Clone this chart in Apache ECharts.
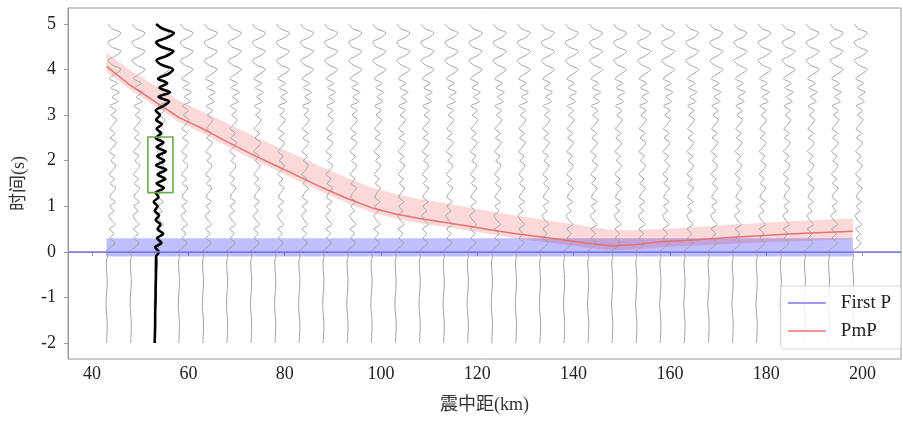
<!DOCTYPE html>
<html>
<head>
<meta charset="utf-8">
<script src="https://cdn.jsdelivr.net/npm/echarts@6.0.0/dist/echarts.min.js"></script>
<style>
  html, body { margin: 0; padding: 0; background: #fff; }
  #chart { width: 903px; height: 421px; }
</style>
</head>
<body>
<div id="chart"></div>
<script>
// 台站震中距 (km)
const traceDist = [43, 48, 53, 58, 63, 68, 73, 78, 83, 88, 93, 98, 103, 108, 113, 118,
  123, 128, 133, 138, 143, 148, 153, 158, 163, 168, 173, 178, 183, 188, 193, 198];
// 波形采样时间 (s)
const waveTime = [-2.0, -1.8, -1.6, -1.4, -1.2, -1.0, -0.8, -0.6, -0.4, -0.2, -0.1, 0.0,
  0.1, 0.2, 0.3, 0.4, 0.5, 0.6, 0.7, 0.8, 0.9, 1.0,
  1.1, 1.2, 1.3, 1.4, 1.5, 1.6, 1.7, 1.8, 1.9, 2.0,
  2.1, 2.2, 2.3, 2.4, 2.5, 2.6, 2.7, 2.8, 2.9, 3.0,
  3.1, 3.2, 3.3, 3.4, 3.5, 3.6, 3.7, 3.8, 3.9, 4.0,
  4.1, 4.2, 4.3, 4.4, 4.5, 4.6, 4.7, 4.8, 4.9, 5.0];
// 灰色波形偏移量 (km)
const grayWave = [0.0, 0.1, 0.15, 0.05, -0.1, -0.05, 0.1, 0.15, 0.0, -0.05, 0.2, -0.1,
  0.9, 1.7, 0.7, 1.5, 0.6, 1.8, 1.0, 0.5, 1.5, 0.7,
  1.8, 0.7, 1.2, 1.9, 0.8, 1.6, 0.6, 1.4, 1.9, 0.9,
  1.7, 0.6, 1.4, 2.0, 0.8, 1.8, 0.7, 1.5, 2.1, 1.0,
  2.0, 0.7, 2.4, 1.2, 2.6, 0.9, 2.2, 0.6, 1.8, 3.0,
  1.2, 0.3, 1.9, 3.0, 1.0, 0.3, 2.0, 3.0, 1.1, 0.3];
// 黑色波形 (53 km)
const blackDist = 53;
const blackWave = [0.0, 0.05, 0.1, 0.1, 0.15, 0.2, 0.2, 0.25, 0.3, 0.35, 0.3, 0.9,
  0.1, 1.4, 0.5, 1.8, 0.6, 1.2, 0.2, 0.9, 0.0, 0.6,
  -0.2, 0.8, 0.2, 1.9, 0.4, 2.2, 0.6, 2.4, 0.3, 2.0,
  0.5, 2.3, 0.4, 1.8, 0.2, 1.3, 0.4, 1.5, 0.3, 1.1,
  0.2, 1.8, 3.0, 0.8, 3.2, 1.0, 2.6, 0.7, 2.8, 3.8,
  1.5, 0.4, 2.5, 3.9, 1.4, 0.3, 2.6, 4.0, 1.6, 0.3];
// PmP 走时及范围
const pmpTime = [4.07, 3.65, 3.3, 2.95, 2.7, 2.42, 2.15, 1.9, 1.65, 1.4, 1.17, 0.97, 0.83, 0.73, 0.65, 0.57,
  0.48, 0.40, 0.33, 0.26, 0.19, 0.13, 0.16, 0.22, 0.25, 0.28, 0.32, 0.35, 0.38, 0.41, 0.43, 0.45];
const pmpUpper = [4.37, 3.98, 3.65, 3.32, 3.08, 2.82, 2.57, 2.33, 2.09, 1.85, 1.62, 1.42, 1.27, 1.16, 1.07, 0.98,
  0.88, 0.8, 0.72, 0.64, 0.56, 0.48, 0.48, 0.5, 0.53, 0.56, 0.6, 0.63, 0.66, 0.69, 0.71, 0.73];
const pmpLower = [3.95, 3.55, 3.2, 2.85, 2.6, 2.32, 2.05, 1.8, 1.55, 1.3, 1.07, 0.87, 0.73, 0.63, 0.55, 0.47,
  0.38, 0.3, 0.23, 0.16, 0.09, 0.03, 0.05, 0.1, 0.13, 0.15, 0.18, 0.2, 0.22, 0.24, 0.26, 0.28];
// First P 范围
const firstPBandDist = [43, 198];
const firstPLower = [-0.1, -0.1];
const firstPUpper = [0.3, 0.3];
// 绿色框
const greenBoxKm = [51.6, 56.8];
const greenBoxTime = [1.3, 2.52];
// 刻度
const xTicks = [40, 60, 80, 100, 120, 140, 160, 180, 200];
const yTicks = [-2, -1, 0, 1, 2, 3, 4, 5];

const FONT = '"Liberation Serif", "Noto Sans CJK SC", serif';

function bandRender(dist, lower, upper, fill) {
  return function (params, api) {
    const pts = [];
    for (let i = 0; i < dist.length; i++) pts.push(api.coord([dist[i], upper[i]]));
    for (let i = dist.length - 1; i >= 0; i--) pts.push(api.coord([dist[i], lower[i]]));
    return { type: 'polygon', shape: { points: pts }, style: { fill: fill } };
  };
}

const series = [];
series.push({
  type: 'custom', silent: true, z: 1,
  renderItem: bandRender(firstPBandDist, firstPLower, firstPUpper, 'rgba(0,0,255,0.25)'),
  data: [[firstPBandDist[0], firstPLower[0]]]
});
series.push({
  type: 'custom', silent: true, z: 1,
  renderItem: bandRender(traceDist, pmpLower, pmpUpper, 'rgba(230,0,0,0.15)'),
  data: [[traceDist[0], pmpLower[0]]]
});

traceDist.forEach(function (d) {
  series.push({
    name: 'trace' + d,
    type: 'line', silent: true, z: 2,
    symbol: 'none', smooth: 0.3,
    lineStyle: { color: '#a3a3a3', width: 1 },
    data: waveTime.map(function (t, i) { return [d + grayWave[i], t]; })
  });
});

series.push({
  name: 'black', type: 'line', silent: true, z: 4,
  symbol: 'none', smooth: 0.3,
  lineStyle: { color: '#000', width: 2.6 },
  data: waveTime.map(function (t, i) { return [blackDist + blackWave[i], t]; })
});

series.push({
  name: 'First P', type: 'line', z: 3, symbol: 'none',
  itemStyle: { color: '#7a7af0' },
  lineStyle: { color: '#7a7af0', width: 1.5 },
  data: [],
  markLine: {
    silent: true, symbol: 'none', label: { show: false },
    lineStyle: { color: '#7a7af0', width: 1.5, type: 'solid' },
    data: [{ yAxis: 0 }]
  }
});

series.push({
  name: 'PmP', type: 'line', z: 3, symbol: 'none',
  itemStyle: { color: '#e47272' },
  lineStyle: { color: '#e47272', width: 1.5 },
  data: traceDist.map(function (d, i) { return [d, pmpTime[i]]; })
});

series.push({
  type: 'custom', silent: true, z: 5,
  renderItem: function (params, api) {
    const p0 = api.coord([greenBoxKm[0], greenBoxTime[1]]);
    const p1 = api.coord([greenBoxKm[1], greenBoxTime[0]]);
    return {
      type: 'rect',
      shape: { x: p0[0], y: p0[1], width: p1[0] - p0[0], height: p1[1] - p0[1] },
      style: { fill: 'none', stroke: '#6aab47', lineWidth: 1.6 }
    };
  },
  data: [[greenBoxKm[0], greenBoxTime[0]]]
});

const option = {
  animation: false,
  backgroundColor: '#fff',
  grid: {
    left: 68, top: 8, right: 2, bottom: 62,
    show: true, borderColor: '#9a9a9a', borderWidth: 1
  },
  legend: {
    data: ['First P', 'PmP'],
    orient: 'vertical',
    right: 2, bottom: 72,
    padding: [7, 10, 8, 7],
    itemGap: 8,
    icon: 'rect',
    itemWidth: 38, itemHeight: 1.5,
    backgroundColor: 'rgba(255,255,255,0.85)',
    borderColor: '#d6d6d6', borderWidth: 1, borderRadius: 3,
    textStyle: { fontFamily: FONT, fontSize: 19, color: '#222', lineHeight: 20, padding: [0, 0, 0, 10] }
  },
  xAxis: {
    type: 'value', min: 35, max: 208,
    name: '震中距(km)', nameLocation: 'middle', nameGap: 37,
    nameTextStyle: { fontFamily: FONT, fontSize: 18, color: '#333' },
    axisLine: { show: true, lineStyle: { color: '#9a9a9a' } },
    axisTick: { show: true, length: 4, customValues: xTicks, lineStyle: { color: '#9a9a9a' } },
    axisLabel: { customValues: xTicks, fontFamily: FONT, fontSize: 18, color: '#222', margin: 6 },
    splitLine: { show: false }
  },
  yAxis: {
    type: 'value', min: -2.35, max: 5.35,
    name: '时间(s)', nameLocation: 'middle', nameGap: 40, nameRotate: 90,
    nameTextStyle: { fontFamily: FONT, fontSize: 18, color: '#333' },
    axisLine: { show: true, lineStyle: { color: '#9a9a9a' } },
    axisTick: { show: true, length: 4, customValues: yTicks, lineStyle: { color: '#9a9a9a' } },
    axisLabel: { customValues: yTicks, fontFamily: FONT, fontSize: 18, color: '#222', margin: 12 },
    splitLine: { show: false }
  },
  series: series
};

const myChart = echarts.init(document.getElementById('chart'));
myChart.setOption(option);
</script>
</body>
</html>
